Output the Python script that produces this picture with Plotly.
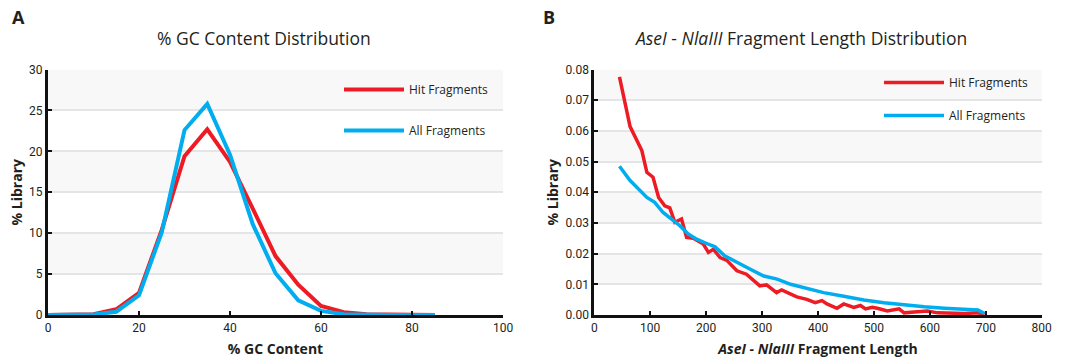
import plotly.graph_objects as go

# ---- Panel A data: % GC content distribution ----
gc_x = [0, 5, 10, 15, 20, 25, 30, 35, 40, 45, 50, 55, 60, 65, 70, 75, 80, 85]
gc_hit = [0, 0, 0.1, 0.7, 2.7, 10.4, 19.4, 22.7, 18.7, 13.0, 7.2, 3.7, 1.1, 0.35, 0.1, 0.05, 0, 0]
gc_all = [0, 0, 0.05, 0.4, 2.4, 10.1, 22.6, 25.8, 19.6, 11.1, 5.1, 1.8, 0.5, 0.1, 0.02, 0, 0, 0]
gc_yticks = [0, 5, 10, 15, 20, 25, 30]
gc_xticks = [0, 20, 40, 60, 80, 100]

# ---- Panel B data: AseI - NlaIII fragment length distribution ----
len_hit_x = [45, 64, 85, 94, 105, 115, 126, 135, 144, 156, 165, 177, 195, 204, 213, 225,
             237, 255, 272, 296, 308, 326, 335, 347, 362, 380, 395, 407, 416, 434, 446,
             464, 476, 485, 497, 506, 524, 545, 554, 572, 596, 614, 638, 662, 686, 698]
len_hit = [0.0776, 0.0614, 0.0536, 0.0465, 0.0449, 0.0383, 0.0356, 0.0349, 0.0302, 0.0313,
           0.0253, 0.0250, 0.0231, 0.0204, 0.0214, 0.0187, 0.0178, 0.0144, 0.0133, 0.0095,
           0.0098, 0.0073, 0.0082, 0.0073, 0.0059, 0.0051, 0.0040, 0.0047, 0.0036, 0.0022,
           0.0036, 0.0025, 0.0031, 0.0020, 0.0025, 0.0022, 0.0013, 0.0020, 0.0007, 0.0010,
           0.0013, 0.0007, 0.0005, 0.0005, 0.0007, 0.0002]
len_all_x = [45, 64, 94, 108, 123, 138, 153, 168, 183, 201, 216, 233, 255, 279, 303, 327,
             351, 380, 410, 446, 482, 518, 554, 590, 626, 662, 686, 698]
len_all = [0.0485, 0.0438, 0.0383, 0.0367, 0.0334, 0.0313, 0.0291, 0.0264, 0.0247, 0.0233,
           0.0222, 0.0193, 0.0171, 0.0149, 0.0127, 0.0117, 0.0100, 0.0087, 0.0073, 0.0061,
           0.0049, 0.0040, 0.0033, 0.0027, 0.0022, 0.0017, 0.0016, 0.0005]
len_yticks = [0, 0.01, 0.02, 0.03, 0.04, 0.05, 0.06, 0.07, 0.08]
len_xticks = [0, 100, 200, 300, 400, 500, 600, 700, 800]

series_names = ["Hit Fragments", "All Fragments"]
RED = "#ed1c24"
BLUE = "#00aeef"
INK = "#231f20"
FONT = "Open Sans"
TICKFONT = dict(family="Liberation Sans Narrow, Roboto, sans-serif", size=12, color=INK)

fig = go.Figure()
fig.add_trace(go.Scatter(x=gc_x, y=gc_hit, mode="lines", name=series_names[0],
                         line=dict(color=RED, width=4), xaxis="x", yaxis="y",
                         legend="legend", legendgroup="a1"))
fig.add_trace(go.Scatter(x=gc_x, y=gc_all, mode="lines", name=series_names[1],
                         line=dict(color=BLUE, width=4), xaxis="x", yaxis="y",
                         legend="legend", legendgroup="a2"))
fig.add_trace(go.Scatter(x=len_hit_x, y=len_hit, mode="lines", name=series_names[0],
                         line=dict(color=RED, width=3.5), xaxis="x2", yaxis="y2",
                         legend="legend2", legendgroup="b1"))
fig.add_trace(go.Scatter(x=len_all_x, y=len_all, mode="lines", name=series_names[1],
                         line=dict(color=BLUE, width=3.5), xaxis="x2", yaxis="y2",
                         legend="legend2", legendgroup="b2"))

# alternating background bands between gridlines
shapes = []
for xref, yref, ticks in (("x domain", "y", gc_yticks), ("x2 domain", "y2", len_yticks)):
    for i in range(len(ticks) - 1):
        if (len(ticks) - 2 - i) % 2 == 0:
            shapes.append(dict(type="rect", xref=xref, yref=yref, x0=0, x1=1,
                               y0=ticks[i], y1=ticks[i + 1], fillcolor="#f8f8f8",
                               line=dict(width=0), layer="below"))

ydom = [1 - 315 / 361, 1 - 69.5 / 361]
axis_common = dict(showline=True, linecolor="#111111", linewidth=3, ticks="inside",
                   ticklen=4, tickwidth=2, tickcolor="#111111", tickfont=TICKFONT,
                   zeroline=False, automargin=False)
legend_common = dict(font=dict(family=FONT, size=12, color=INK), bgcolor="rgba(0,0,0,0)",
                     itemwidth=60, xanchor="left", yanchor="top", itemclick=False)
title_font = dict(family=FONT, size=14, color=INK)

fig.update_layout(
    width=1070, height=361,
    margin=dict(l=0, r=0, t=0, b=0),
    paper_bgcolor="white", plot_bgcolor="white",
    shapes=shapes,
    xaxis=dict(domain=[48 / 1070, 503 / 1070], range=[0, 100], tickvals=gc_xticks,
               showgrid=False, anchor="y",
               title=dict(text="<b>% GC Content</b>", font=title_font, standoff=10),
               **axis_common),
    yaxis=dict(domain=ydom, range=[0, 30], tickvals=gc_yticks, anchor="x",
               showgrid=True, gridcolor="#e4e5e6", gridwidth=2,
               title=dict(text="<b>% Library</b>", font=title_font, standoff=4),
               **axis_common),
    xaxis2=dict(domain=[594.3 / 1070, 1041.7 / 1070], range=[0, 800], tickvals=len_xticks,
                showgrid=False, anchor="y2",
                title=dict(text="<b><i>AseI - NlaIII</i> Fragment Length</b>",
                           font=title_font, standoff=10),
                **axis_common),
    yaxis2=dict(domain=ydom, range=[0, 0.08], tickvals=len_yticks, tickformat=".2f",
                anchor="x2", showgrid=True, gridcolor="#e4e5e6", gridwidth=2,
                title=dict(text="<b>% Library</b>", font=title_font, standoff=4),
                **axis_common),
    legend=dict(x=339 / 1070, y=1 - 75 / 361, tracegroupgap=22, **legend_common),
    legend2=dict(x=879 / 1070, y=1 - 68 / 361, tracegroupgap=14, **legend_common),
    annotations=[
        dict(text="<b>A</b>", x=18 / 1070, y=1 - 17 / 361, xref="paper", yref="paper",
             xanchor="center", yanchor="middle", showarrow=False,
             font=dict(family=FONT, size=18, color=INK)),
        dict(text="<b>B</b>", x=549 / 1070, y=1 - 17 / 361, xref="paper", yref="paper",
             xanchor="center", yanchor="middle", showarrow=False,
             font=dict(family=FONT, size=18, color=INK)),
        dict(text="% GC Content Distribution", x=264 / 1070, y=1 - 38 / 361,
             xref="paper", yref="paper", xanchor="center", yanchor="middle", showarrow=False,
             font=dict(family=FONT, size=17.5, color=INK)),
        dict(text="<i>AseI</i> - <i>NlaIII</i> Fragment Length Distribution",
             x=801 / 1070, y=1 - 38 / 361, xref="paper", yref="paper",
             xanchor="center", yanchor="middle", showarrow=False,
             font=dict(family=FONT, size=17.5, color=INK)),
    ],
)

fig.write_html("out.html")
